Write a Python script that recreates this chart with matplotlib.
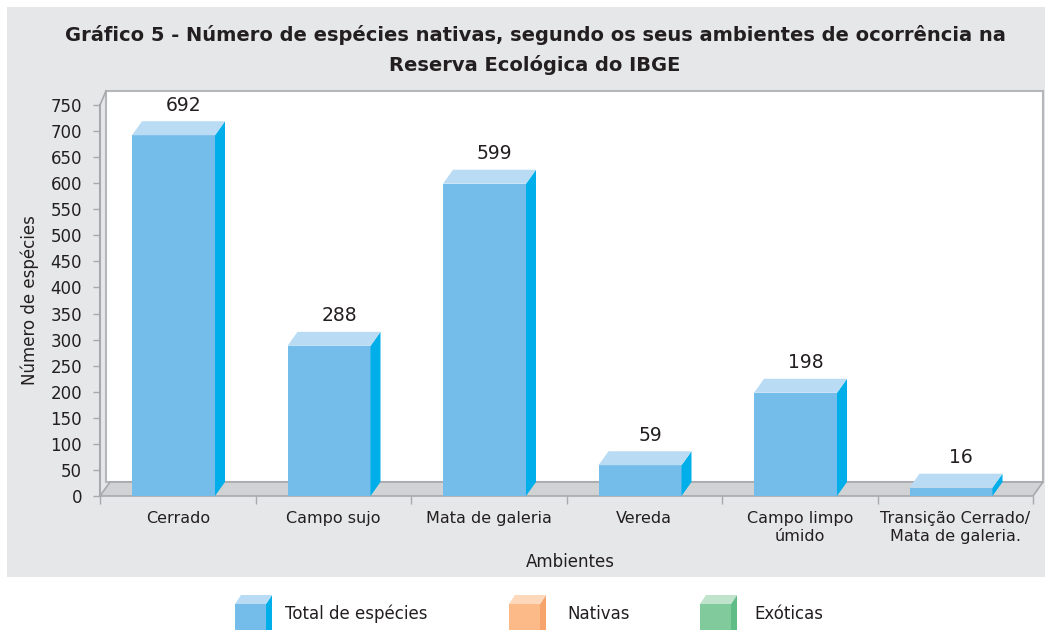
import matplotlib.pyplot as plt
from matplotlib.patches import Polygon, Rectangle

plt.rcParams['font.family'] = ['DejaVu Sans']

# data
categorias = ['Cerrado', 'Campo sujo', 'Mata de galeria', 'Vereda',
              'Campo limpo\númido', 'Transição Cerrado/\nMata de galeria.']
total_especies = [692, 288, 599, 59, 198, 16]
legenda = ['Total de espécies', 'Nativas', 'Exóticas']
yticks = list(range(0, 751, 50))

titulo = ('Gráfico 5 - Número de espécies nativas, segundo os seus ambientes de ocorrência na\n'
          'Reserva Ecológica do IBGE')

txt = '#231F20'
cinza_eixo = '#A7A9AC'
fundo = '#E6E7E8'
chao = '#D1D2D4'
# front, side, top colours
cores = [('#74BDEA', '#00AEEA', '#B9DCF4'),
         ('#FBBA87', '#F6A36C', '#FDD8BB'),
         ('#80CA9C', '#60BD85', '#BFE3CB')]

W, H = 1052, 630
fig = plt.figure(figsize=(W / 100, H / 100), dpi=100)

# background / legend layer in pixel coords
bg = fig.add_axes([0, 0, 1, 1], zorder=0)
bg.set_xlim(0, W)
bg.set_ylim(H, 0)
bg.axis('off')
bg.add_patch(Rectangle((7, 7), 1038, 570, facecolor=fundo, edgecolor='none'))

# legend cubes
leg_x = [235, 509, 700]
leg_tx = [285, 567, 754]
for (fx, tx, nome, (cf, cs, ct)) in zip(leg_x, leg_tx, legenda, cores):
    fw, d, dv = 31, 6, 9
    top = 604
    bg.add_patch(Rectangle((fx, top), fw, 40, facecolor=cf, edgecolor='none'))
    bg.add_patch(Polygon([(fx + fw, top), (fx + fw + d, top - dv), (fx + fw + d, 640), (fx + fw, 640)],
                         facecolor=cs, edgecolor='none'))
    bg.add_patch(Polygon([(fx, top), (fx + fw, top), (fx + fw + d, top - dv), (fx + d, top - dv)],
                         facecolor=ct, edgecolor='none'))
    bg.text(tx, 614, nome, fontsize=12, color=txt, va='center', ha='left')

fig.text(535 / W, 1 - 50 / H, titulo, ha='center', va='center', fontsize=14,
         fontweight='bold', color=txt, linespacing=1.6)

# main axes: x 0..6 -> px 100..1033, y 0..750 -> px 496..105
x0, y0 = 100, 496
cat_px = (1033 - 100) / 6
val_px = (496 - 105) / 750
dpx, dpy = 10, 14
ddx = dpx / cat_px
ddy = dpy / val_px
top_px = 91
ymax = (y0 - top_px) / val_px
xmax = 6 + ddx

ax = fig.add_axes([x0 / W, (H - y0) / H, (1043 - x0) / W, (y0 - top_px) / H], zorder=1)
ax.set_facecolor('none')
ax.set_xlim(0, xmax)
ax.set_ylim(0, ymax)

# back wall
ax.add_patch(Rectangle((ddx * 0.6, ddy), 6 + ddx * 0.4, ymax - ddy, facecolor='white',
                       edgecolor='#B5B7BA', linewidth=1.5, zorder=1, clip_on=False))
# left diagonal at top
ax.plot([0, ddx * 0.6], [750, ymax], color=cinza_eixo, lw=1.2, clip_on=False, zorder=2)
# floor
ax.add_patch(Polygon([(0, 0), (6, 0), (6 + ddx, ddy), (ddx, ddy)], facecolor=chao,
                     edgecolor=cinza_eixo, linewidth=1.2, zorder=2, clip_on=False))

# bars
bw = 83 / cat_px
off = 32 / cat_px
cf, cs, ct = cores[0]
for i, v in enumerate(total_especies):
    xl = i + off
    xr = xl + bw
    ax.bar(xl, v, width=bw, align='edge', color=cf, edgecolor='none', zorder=3)
    ax.add_patch(Polygon([(xr, 0), (xr + ddx, ddy), (xr + ddx, v + ddy), (xr, v)],
                         facecolor=cs, edgecolor='none', zorder=3))
    ax.add_patch(Polygon([(xl, v), (xr, v), (xr + ddx, v + ddy), (xl + ddx, v + ddy)],
                         facecolor=ct, edgecolor='none', zorder=3))
    ax.text(xl + ddx + bw / 2, v + ddy + 16 / val_px, str(v), ha='center', va='center',
            fontsize=13.5, color=txt, zorder=4)

for s in ['top', 'right', 'bottom']:
    ax.spines[s].set_visible(False)
ax.spines['left'].set_bounds(0, 750)
ax.spines['left'].set_color(cinza_eixo)
ax.spines['left'].set_linewidth(1.5)
ax.spines['left'].set_zorder(5)

ax.set_yticks(yticks)
ax.tick_params(axis='y', colors=cinza_eixo, length=5, width=1, pad=8, labelsize=12,
               labelcolor=txt)

ax.set_xticks(range(7))
ax.set_xticklabels([])
ax.set_xticks([i + 0.5 for i in range(6)], minor=True)
ax.set_xticklabels(categorias, minor=True, fontsize=11.5, color=txt, linespacing=1.25)
ax.tick_params(axis='x', which='major', colors=cinza_eixo, length=6, width=1)
ax.tick_params(axis='x', which='minor', length=0, pad=11)

fig.text(570 / W, 1 - 562 / H, 'Ambientes', ha='center', va='center', fontsize=12, color=txt)
fig.text(30 / W, 1 - 300 / H, 'Número de espécies', ha='center', va='center', fontsize=12,
         color=txt, rotation=90)

fig.savefig('out.png', dpi=100)
